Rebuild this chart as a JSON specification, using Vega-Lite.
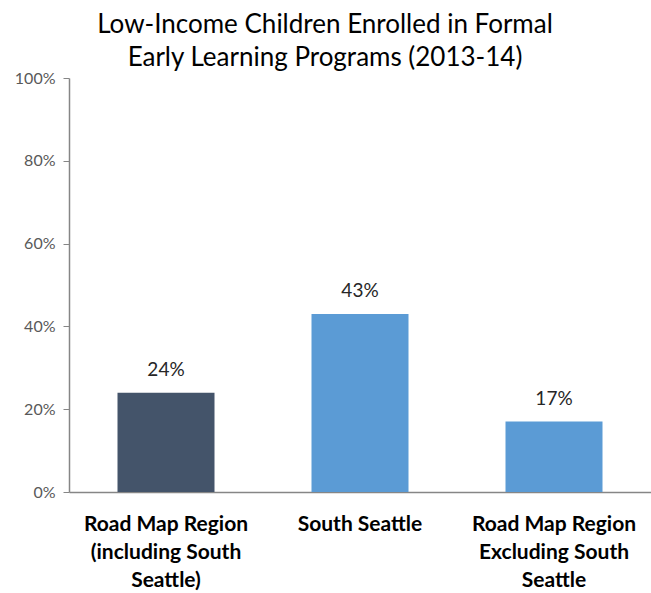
{
  "$schema": "https://vega.github.io/schema/vega-lite/v6.json",
  "width": 582,
  "height": 414,
  "autosize": "none",
  "padding": {"left": 69, "top": 78, "right": 0, "bottom": 101},
  "background": "white",
  "title": {
    "text": ["Low-Income Children Enrolled in Formal", "Early Learning Programs (2013-14)"],
    "font": "Lato",
    "fontSize": 26,
    "fontWeight": "normal",
    "color": "#000000",
    "lineHeight": 33,
    "offset": -1,
    "anchor": "middle",
    "dx": -35
  },
  "data": {
    "values": [
      {"region": "Road Map Region|(including South|Seattle)", "value": 0.24, "group": "all"},
      {"region": "South Seattle", "value": 0.43, "group": "south"},
      {"region": "Road Map Region|Excluding South|Seattle", "value": 0.17, "group": "excl"}
    ]
  },
  "config": {
    "view": {"stroke": null},
    "axis": {"grid": false}
  },
  "encoding": {
    "x": {
      "field": "region",
      "type": "nominal",
      "sort": null,
      "scale": {"paddingInner": 0.5, "paddingOuter": 0.25},
      "axis": {
        "title": null,
        "labelAngle": 0,
        "labelExpr": "split(datum.label, '|')",
        "labelFont": "Lato",
        "labelFontSize": 21,
        "labelFontWeight": "bold",
        "labelColor": "#000000",
        "labelLineHeight": 28,
        "labelPadding": 21,
        "ticks": false,
        "domainColor": "#868686",
        "domainWidth": 1.5
      }
    },
    "y": {
      "field": "value",
      "type": "quantitative",
      "scale": {"domain": [0, 1]},
      "axis": {
        "title": null,
        "format": ".0%",
        "values": [0, 0.2, 0.4, 0.6, 0.8, 1],
        "labelFont": "Lato",
        "labelFontSize": 16,
        "labelColor": "#595959",
        "labelPadding": 8,
        "tickSize": 6,
        "tickColor": "#868686",
        "domainColor": "#868686",
        "domainWidth": 1.5
      }
    }
  },
  "layer": [
    {
      "mark": {"type": "bar"},
      "encoding": {
        "color": {
          "field": "group",
          "type": "nominal",
          "scale": {"domain": ["all", "south", "excl"], "range": ["#44546A", "#5B9BD5", "#5B9BD5"]},
          "legend": null
        }
      }
    },
    {
      "mark": {"type": "text", "dy": -23, "font": "Lato", "fontSize": 19, "color": "#262626"},
      "encoding": {
        "text": {"field": "value", "type": "quantitative", "format": ".0%"}
      }
    }
  ]
}
